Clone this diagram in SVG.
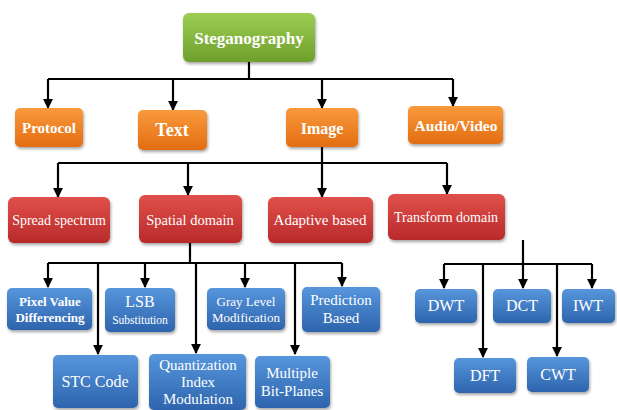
<svg xmlns="http://www.w3.org/2000/svg" width="617" height="410" viewBox="0 0 617 410">
<defs>
<linearGradient id="gG" x1="0" y1="0" x2="0" y2="1"><stop offset="0" stop-color="#9ccd52"/><stop offset="1" stop-color="#6f9f2c"/></linearGradient>
<linearGradient id="gO" x1="0" y1="0" x2="0" y2="1"><stop offset="0" stop-color="#f99a3c"/><stop offset="1" stop-color="#e36d12"/></linearGradient>
<linearGradient id="gR" x1="0" y1="0" x2="0" y2="1"><stop offset="0" stop-color="#e0504a"/><stop offset="1" stop-color="#b92a2b"/></linearGradient>
<linearGradient id="gB" x1="0" y1="0" x2="0" y2="1"><stop offset="0" stop-color="#5796dc"/><stop offset="1" stop-color="#2d64ad"/></linearGradient>
<filter id="sh" x="-10%" y="-10%" width="130%" height="140%"><feDropShadow dx="1" dy="2" stdDeviation="1.5" flood-color="#000" flood-opacity="0.35"/></filter>
<marker id="ar" viewBox="0 0 10 10" refX="9" refY="5" markerWidth="4.5" markerHeight="4.5" orient="auto"><path d="M0,0 L10,5 L0,10 z" fill="#000"/></marker>
</defs>
<style>
.c{fill:none;stroke:#000;stroke-width:2.2}
.a{fill:none;stroke:#000;stroke-width:2.2;marker-end:url(#ar)}
.n rect{filter:url(#sh)}
.g{fill:url(#gG)}.o{fill:url(#gO)}.r{fill:url(#gR)}.b{fill:url(#gB)}
text{font-family:"Liberation Serif","Liberation Sans",serif;fill:#fff;text-anchor:middle}
.bd{font-weight:bold}
</style>
<g id="connectors">
<path class="c" d="M249,62 V79 M48,79 H453"/>
<path class="a" d="M48,79 V108"/>
<path class="a" d="M173,79 V110"/>
<path class="a" d="M322,79 V108"/>
<path class="a" d="M453,79 V106"/>
<path class="c" d="M322,147 V163 M58,163 H447"/>
<path class="a" d="M58,163 V197"/>
<path class="a" d="M188,163 V195"/>
<path class="a" d="M322,163 V197"/>
<path class="a" d="M447,163 V194"/>
<path class="c" d="M190,243 V263 M48,263 H342"/>
<path class="a" d="M48,263 V287"/>
<path class="a" d="M98,263 V354"/>
<path class="a" d="M145,263 V287"/>
<path class="a" d="M196,263 V353"/>
<path class="a" d="M245,263 V287"/>
<path class="a" d="M295,263 V354"/>
<path class="a" d="M342,263 V286"/>
<path class="c" d="M523,240 V264 M444,264 H592"/>
<path class="a" d="M444,264 V288"/>
<path class="a" d="M483,264 V357"/>
<path class="a" d="M523,264 V288"/>
<path class="a" d="M557,264 V356"/>
<path class="a" d="M592,264 V288"/>
</g>
<g id="steganography" class="n"><rect class="g" x="183" y="13" width="132" height="49" rx="6"/><text class="bd" x="249" y="44" font-size="17">Steganography</text></g>
<g id="protocol" class="n"><rect class="o" x="15" y="108" width="68" height="39" rx="5"/><text class="bd" x="49" y="133" font-size="15">Protocol</text></g>
<g id="text" class="n"><rect class="o" x="138" y="110" width="69" height="40" rx="5"/><text class="bd" x="172" y="136" font-size="18">Text</text></g>
<g id="image" class="n"><rect class="o" x="286" y="108" width="72" height="39" rx="5"/><text class="bd" x="322" y="134" font-size="16">Image</text></g>
<g id="audiovideo" class="n"><rect class="o" x="408" y="106" width="95" height="38" rx="5"/><text class="bd" x="456" y="131" font-size="15.5">Audio/Video</text></g>
<g id="spread" class="n"><rect class="r" x="8" y="197" width="102" height="46" rx="6"/><text x="59" y="225" font-size="14">Spread spectrum</text></g>
<g id="spatial" class="n"><rect class="r" x="139" y="195" width="103" height="48" rx="6"/><text x="190" y="225" font-size="14.5">Spatial domain</text></g>
<g id="adaptive" class="n"><rect class="r" x="268" y="197" width="105" height="46" rx="6"/><text x="320" y="225" font-size="15">Adaptive based</text></g>
<g id="transform" class="n"><rect class="r" x="388" y="194" width="117" height="46" rx="6"/><text x="446" y="222" font-size="14">Transform domain</text></g>
<g id="pvd" class="n"><rect class="b" x="7" y="288" width="85" height="42" rx="5"/><text class="bd" x="50" y="306" font-size="13">Pixel Value</text><text class="bd" x="50" y="322" font-size="13">Differencing</text></g>
<g id="lsb" class="n"><rect class="b" x="105" y="288" width="70" height="44" rx="5"/><text x="140" y="307" font-size="16">LSB</text><text x="140" y="324" font-size="11.5">Substitution</text></g>
<g id="gray" class="n"><rect class="b" x="207" y="288" width="78" height="42" rx="5"/><text x="246" y="306" font-size="13">Gray Level</text><text x="246" y="322" font-size="13">Modification</text></g>
<g id="prediction" class="n"><rect class="b" x="302" y="287" width="78" height="45" rx="5"/><text x="341" y="305" font-size="15">Prediction</text><text x="341" y="323" font-size="15">Based</text></g>
<g id="stc" class="n"><rect class="b" x="53" y="355" width="85" height="53" rx="5"/><text x="95" y="387" font-size="16">STC Code</text></g>
<g id="qim" class="n"><rect class="b" x="149" y="354" width="97" height="56" rx="5"/><text x="198" y="370" font-size="15">Quantization</text><text x="198" y="387" font-size="15">Index</text><text x="198" y="404" font-size="15">Modulation</text></g>
<g id="multiple" class="n"><rect class="b" x="255" y="356" width="75" height="52" rx="5"/><text x="292" y="378" font-size="15">Multiple</text><text x="292" y="396" font-size="15">Bit-Planes</text></g>
<g id="dwt" class="n"><rect class="b" x="415" y="289" width="62" height="34" rx="5"/><text x="446" y="311" font-size="16">DWT</text></g>
<g id="dct" class="n"><rect class="b" x="493" y="289" width="58" height="34" rx="5"/><text x="522" y="311" font-size="16">DCT</text></g>
<g id="iwt" class="n"><rect class="b" x="562" y="289" width="53" height="34" rx="5"/><text x="588" y="311" font-size="16">IWT</text></g>
<g id="dft" class="n"><rect class="b" x="454" y="358" width="62" height="35" rx="5"/><text x="485" y="381" font-size="16">DFT</text></g>
<g id="cwt" class="n"><rect class="b" x="527" y="357" width="62" height="35" rx="5"/><text x="558" y="380" font-size="16">CWT</text></g>
</svg>
